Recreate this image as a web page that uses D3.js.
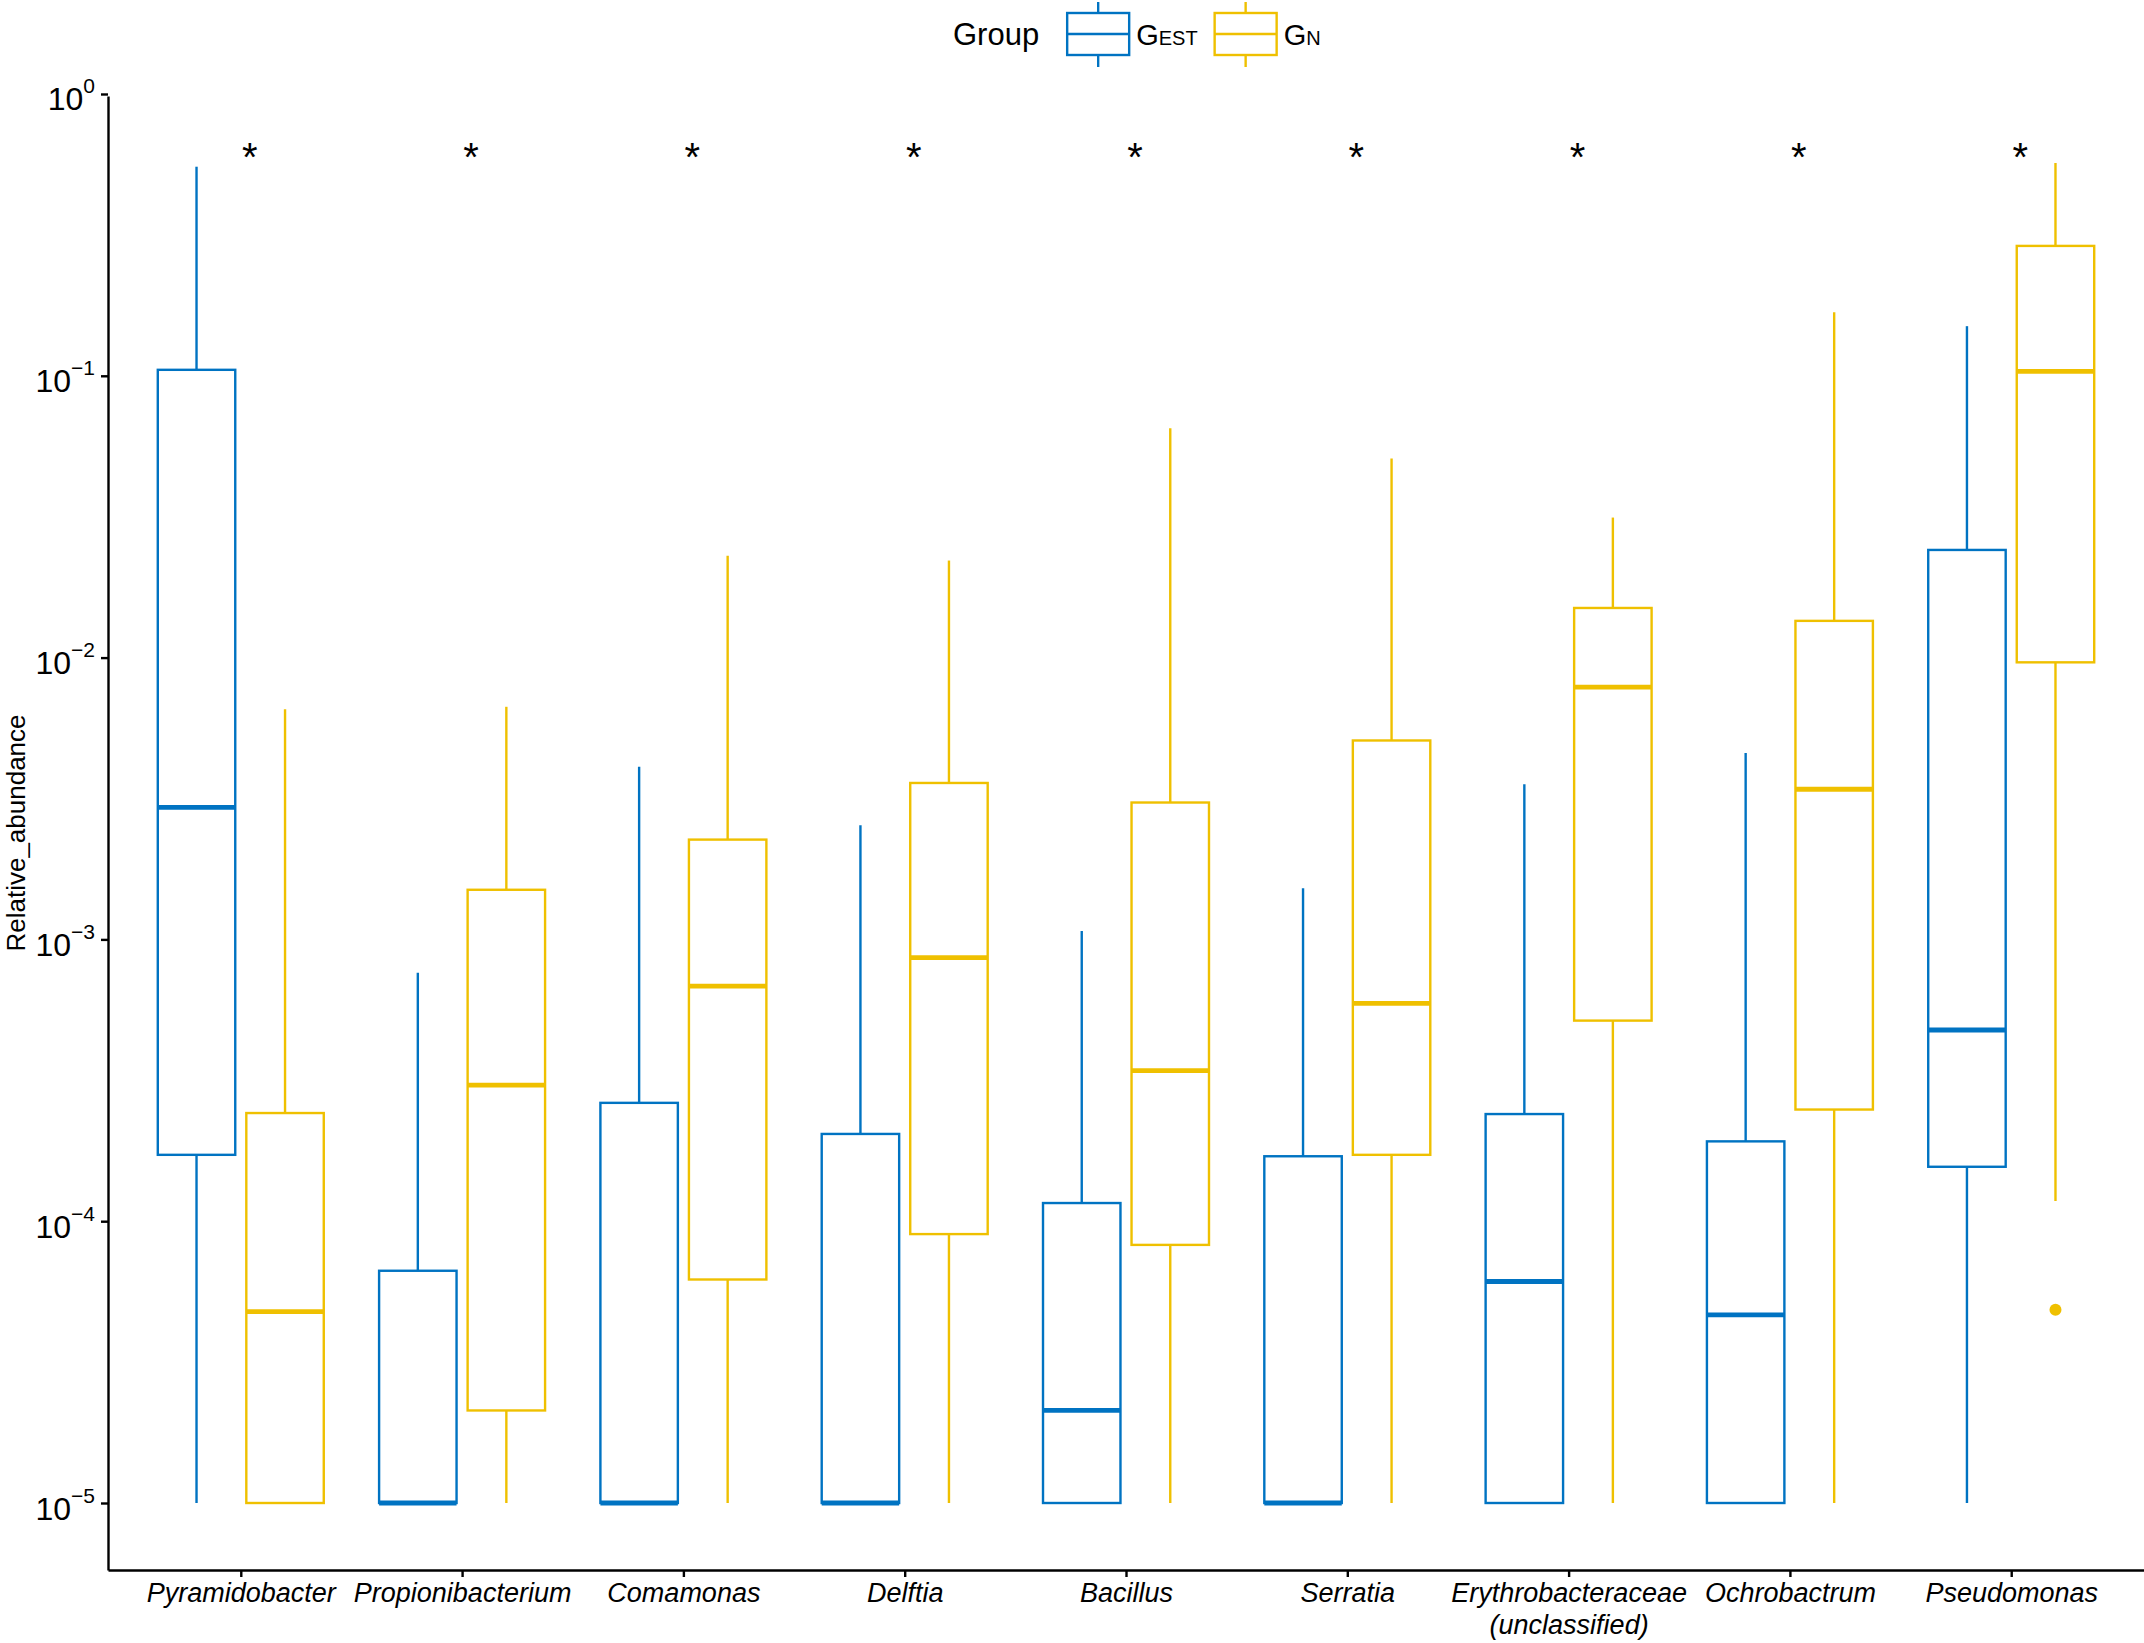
<!DOCTYPE html>
<html>
<head>
<meta charset="utf-8">
<script src="https://cdn.jsdelivr.net/npm/d3@7"></script>
<style>
  body { margin: 0; background: #fff; }
  text { font-family: "Liberation Sans", Arial, Helvetica, sans-serif; }
</style>
</head>
<body>
<svg id="chart" width="2144" height="1643"></svg>
<script>
// data
const genera = ["Pyramidobacter", "Propionibacterium", "Comamonas", "Delftia", "Bacillus",
                "Serratia", "Erythrobacteraceae\n(unclassified)", "Ochrobactrum", "Pseudomonas"];
const groups = ["GEST", "GN"];
const groupColors = ["#0073C2", "#EFC000"];

// GEST box stats
const gestLower  = [1e-5, 1e-5, 1e-5, 1e-5, 1e-5, 1e-5, 1e-5, 1e-5, 1e-5];
const gestQ1     = [1.72e-4, 1e-5, 1e-5, 1e-5, 1e-5, 1e-5, 1e-5, 1e-5, 1.56e-4];
const gestMedian = [2.94e-3, 1e-5, 1e-5, 1e-5, 2.13e-5, 1e-5, 6.11e-5, 4.65e-5, 4.77e-4];
const gestQ3     = [0.105, 6.67e-5, 2.63e-4, 2.04e-4, 1.16e-4, 1.70e-4, 2.40e-4, 1.92e-4, 0.0241];
const gestUpper  = [0.552, 7.62e-4, 4.10e-3, 2.54e-3, 1.07e-3, 1.52e-3, 3.55e-3, 4.59e-3, 0.150];

// GN box stats
const gnLower  = [1e-5, 1e-5, 1e-5, 1e-5, 1e-5, 1e-5, 1e-5, 1e-5, 1.18e-4];
const gnQ1     = [1e-5, 2.13e-5, 6.21e-5, 9.0e-5, 8.24e-5, 1.72e-4, 5.15e-4, 2.49e-4, 9.62e-3];
const gnMedian = [4.78e-5, 3.04e-4, 6.83e-4, 8.61e-4, 3.42e-4, 5.93e-4, 7.86e-3, 3.41e-3, 0.1037];
const gnQ3     = [2.42e-4, 1.50e-3, 2.26e-3, 3.59e-3, 3.06e-3, 5.08e-3, 0.0150, 0.0135, 0.289];
const gnUpper  = [6.56e-3, 6.69e-3, 0.0230, 0.0221, 0.0652, 0.0509, 0.0314, 0.168, 0.569];

// outliers
const outlierGenus = ["Pseudomonas"];
const outlierGroup = ["GN"];
const outlierValue = [4.85e-5];

const signif = ["*", "*", "*", "*", "*", "*", "*", "*", "*"];
const yTicks = [1e-5, 1e-4, 1e-3, 1e-2, 1e-1, 1e0];

// build rows
const stats = {
  GEST: [gestLower, gestQ1, gestMedian, gestQ3, gestUpper],
  GN:   [gnLower, gnQ1, gnMedian, gnQ3, gnUpper]
};
const boxes = [];
genera.forEach((g, i) => {
  groups.forEach(grp => {
    const s = stats[grp];
    boxes.push({genus: g, group: grp,
      lower: s[0][i], q1: s[1][i], median: s[2][i], q3: s[3][i], upper: s[4][i]});
  });
});
const outliers = outlierValue.map((v, i) => ({genus: outlierGenus[i], group: outlierGroup[i], value: v}));

// layout
const W = 2144, H = 1643;
const margin = {top: 96, right: 0, bottom: 73, left: 108};
const svg = d3.select("#chart");
const color = d3.scaleOrdinal().domain(groups).range(groupColors);

const x = d3.scalePoint().domain(genera)
  .range([margin.left, W - margin.right]).padding(0.6);
const step = x.step();
const dodge = d3.scaleBand().domain(groups).range([-0.4 * step, 0.4 * step]);
const boxW = 0.35 * step;
const cx = d => x(d.genus) + dodge(d.group) + dodge.bandwidth() / 2;

// log scale with ggplot-like 5% expansion
const allVals = boxes.flatMap(b => [b.lower, b.upper]).concat(outlierValue);
const lx = d3.extent(allVals, v => Math.log10(v));
const pad = (lx[1] - lx[0]) * 0.05;
const y = d3.scaleLog()
  .domain([Math.pow(10, lx[0] - pad), Math.pow(10, lx[1] + pad)])
  .range([H - margin.bottom, margin.top]);

const LW = 2.4;

// boxes
const gBox = svg.append("g").selectAll("g").data(boxes).join("g")
  .attr("stroke", d => color(d.group));

gBox.append("line")
  .attr("x1", cx).attr("x2", cx)
  .attr("y1", d => y(d.q3)).attr("y2", d => y(d.upper))
  .attr("stroke-width", LW);
gBox.append("line")
  .attr("x1", cx).attr("x2", cx)
  .attr("y1", d => y(d.q1)).attr("y2", d => y(d.lower))
  .attr("stroke-width", LW);
gBox.append("rect")
  .attr("x", d => cx(d) - boxW / 2)
  .attr("width", boxW)
  .attr("y", d => y(d.q3))
  .attr("height", d => y(d.q1) - y(d.q3))
  .attr("fill", "#fff")
  .attr("stroke-width", LW);
gBox.append("line")
  .attr("x1", d => cx(d) - boxW / 2).attr("x2", d => cx(d) + boxW / 2)
  .attr("y1", d => y(d.median)).attr("y2", d => y(d.median))
  .attr("stroke-width", LW * 2);

svg.append("g").selectAll("circle").data(outliers).join("circle")
  .attr("cx", cx)
  .attr("cy", d => y(d.value))
  .attr("r", 6)
  .attr("fill", d => color(d.group));

// significance stars (sit a little right of the group centre, as in the source)
svg.append("g").selectAll("text").data(signif).join("text")
  .attr("x", (d, i) => x(genera[i]) + 9)
  .attr("y", 171)
  .attr("text-anchor", "middle")
  .attr("font-size", 40)
  .attr("fill", "#000")
  .text(d => d);

// y axis
const yAxis = svg.append("g")
  .attr("transform", `translate(${margin.left},0)`)
  .call(d3.axisLeft(y).tickValues(yTicks).tickSize(7).tickSizeOuter(0).tickFormat(""));
yAxis.select(".domain").attr("stroke", "#000").attr("stroke-width", LW);
yAxis.selectAll(".tick line").attr("stroke", "#000").attr("stroke-width", LW);
yAxis.selectAll(".tick text").remove();
const yLab = yAxis.selectAll(".tick").append("text")
  .attr("x", -13).attr("y", 16)
  .attr("text-anchor", "end")
  .attr("fill", "#000")
  .attr("font-size", 32);
yLab.append("tspan").text("10");
yLab.append("tspan")
  .attr("font-size", 21)
  .attr("dy", -17)
  .text(d => {
    const e = Math.round(Math.log10(d));
    return e < 0 ? "\u2212" + (-e) : String(e);
  });

// x axis
const xAxis = svg.append("g")
  .attr("transform", `translate(0,${H - margin.bottom})`)
  .call(d3.axisBottom(x).tickSize(7).tickSizeOuter(0).tickFormat(""));
xAxis.select(".domain").attr("stroke", "#000").attr("stroke-width", LW);
xAxis.selectAll(".tick line").attr("stroke", "#000").attr("stroke-width", LW);
xAxis.selectAll(".tick text").remove();
xAxis.selectAll(".tick").append("text")
  .attr("y", 32)
  .attr("text-anchor", "middle")
  .attr("font-size", 27)
  .attr("font-style", "italic")
  .attr("fill", "#000")
  .selectAll("tspan")
  .data(d => d.split("\n"))
  .join("tspan")
    .attr("x", 0)
    .attr("dy", (d, i) => i === 0 ? 0 : 32)
    .text(d => d);

// y title
svg.append("text")
  .attr("transform", `translate(25,${(margin.top + H - margin.bottom) / 2}) rotate(-90)`)
  .attr("text-anchor", "middle")
  .attr("font-size", 26)
  .attr("fill", "#000")
  .text("Relative_abundance");

// legend
const leg = svg.append("g");
const title = leg.append("text")
  .attr("x", 953).attr("y", 45)
  .attr("font-size", 31)
  .attr("fill", "#000")
  .text("Group");
let lxPos = 953 + title.node().getComputedTextLength() + 28;
groups.forEach(grp => {
  const k = leg.append("g").attr("transform", `translate(${lxPos},0)`)
    .attr("stroke", color(grp)).attr("stroke-width", LW);
  k.append("line").attr("x1", 31).attr("x2", 31).attr("y1", 2).attr("y2", 67);
  k.append("rect").attr("x", 0).attr("y", 13).attr("width", 62).attr("height", 42).attr("fill", "#fff");
  k.append("line").attr("x1", 0).attr("x2", 62).attr("y1", 34).attr("y2", 34);
  const t = leg.append("text")
    .attr("x", lxPos + 69).attr("y", 45)
    .attr("fill", "#000")
    .attr("font-size", 29);
  t.append("tspan").text(grp.charAt(0));
  t.append("tspan").attr("font-size", 20).text(grp.slice(1));
  lxPos += 69 + t.node().getComputedTextLength() + 17;
});
</script>
</body>
</html>
